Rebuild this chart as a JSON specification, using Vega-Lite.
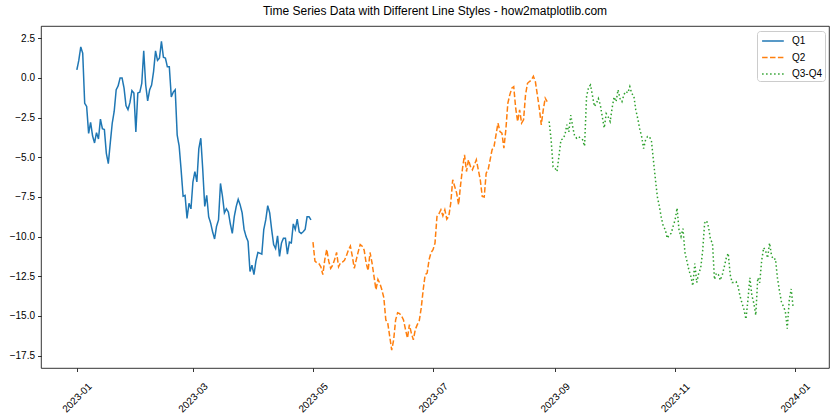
{
"$schema": "https://vega.github.io/schema/vega-lite/v6.json",
"width": 788, "height": 342,
"autosize": {"type": "none"},
"padding": {"left": 41, "top": 26, "right": 11, "bottom": 52},
"background": "white",
"config": {"view": {"stroke": "#000", "strokeWidth": 0.8}, "font": "Liberation Sans"},
"title": {"text": "Time Series Data with Different Line Styles - how2matplotlib.com", "fontSize": 12, "fontWeight": "normal", "color": "#000", "offset": 8, "anchor": "middle"},
"data": {"values": [
{"d":"2023-01-01","v":0.5,"s":"Q1"},{"d":"2023-01-02","v":1.1,"s":"Q1"},{"d":"2023-01-03","v":1.95,"s":"Q1"},{"d":"2023-01-04","v":1.55,"s":"Q1"},{"d":"2023-01-05","v":-1.6,"s":"Q1"},{"d":"2023-01-06","v":-1.8,"s":"Q1"},{"d":"2023-01-07","v":-3.5,"s":"Q1"},{"d":"2023-01-08","v":-2.8,"s":"Q1"},{"d":"2023-01-09","v":-3.65,"s":"Q1"},{"d":"2023-01-10","v":-4.1,"s":"Q1"},
{"d":"2023-01-11","v":-3.45,"s":"Q1"},{"d":"2023-01-12","v":-3.85,"s":"Q1"},{"d":"2023-01-13","v":-2.6,"s":"Q1"},{"d":"2023-01-14","v":-3.2,"s":"Q1"},{"d":"2023-01-15","v":-3.25,"s":"Q1"},{"d":"2023-01-16","v":-4.75,"s":"Q1"},{"d":"2023-01-17","v":-5.4,"s":"Q1"},{"d":"2023-01-18","v":-4.1,"s":"Q1"},{"d":"2023-01-19","v":-2.85,"s":"Q1"},{"d":"2023-01-20","v":-2.1,"s":"Q1"},
{"d":"2023-01-21","v":-0.75,"s":"Q1"},{"d":"2023-01-22","v":-0.5,"s":"Q1"},{"d":"2023-01-23","v":0.0,"s":"Q1"},{"d":"2023-01-24","v":0.0,"s":"Q1"},{"d":"2023-01-25","v":-0.65,"s":"Q1"},{"d":"2023-01-26","v":-1.75,"s":"Q1"},{"d":"2023-01-27","v":-2.0,"s":"Q1"},{"d":"2023-01-28","v":-1.55,"s":"Q1"},{"d":"2023-01-29","v":-0.8,"s":"Q1"},{"d":"2023-01-30","v":-0.95,"s":"Q1"},
{"d":"2023-01-31","v":-3.4,"s":"Q1"},{"d":"2023-02-01","v":-0.95,"s":"Q1"},{"d":"2023-02-02","v":-0.9,"s":"Q1"},{"d":"2023-02-03","v":-0.35,"s":"Q1"},{"d":"2023-02-04","v":1.7,"s":"Q1"},{"d":"2023-02-05","v":-0.45,"s":"Q1"},{"d":"2023-02-06","v":-1.45,"s":"Q1"},{"d":"2023-02-07","v":-0.75,"s":"Q1"},{"d":"2023-02-08","v":-0.45,"s":"Q1"},{"d":"2023-02-09","v":0.4,"s":"Q1"},
{"d":"2023-02-10","v":1.7,"s":"Q1"},{"d":"2023-02-11","v":1.1,"s":"Q1"},{"d":"2023-02-12","v":1.25,"s":"Q1"},{"d":"2023-02-13","v":2.3,"s":"Q1"},{"d":"2023-02-14","v":1.3,"s":"Q1"},{"d":"2023-02-15","v":1.25,"s":"Q1"},{"d":"2023-02-16","v":0.7,"s":"Q1"},{"d":"2023-02-17","v":0.7,"s":"Q1"},{"d":"2023-02-18","v":-1.2,"s":"Q1"},{"d":"2023-02-19","v":-0.9,"s":"Q1"},
{"d":"2023-02-20","v":-0.75,"s":"Q1"},{"d":"2023-02-21","v":-3.6,"s":"Q1"},{"d":"2023-02-22","v":-4.3,"s":"Q1"},{"d":"2023-02-23","v":-5.8,"s":"Q1"},{"d":"2023-02-24","v":-7.45,"s":"Q1"},{"d":"2023-02-25","v":-7.4,"s":"Q1"},{"d":"2023-02-26","v":-8.85,"s":"Q1"},{"d":"2023-02-27","v":-7.9,"s":"Q1"},{"d":"2023-02-28","v":-8.25,"s":"Q1"},{"d":"2023-03-01","v":-6.55,"s":"Q1"},
{"d":"2023-03-02","v":-5.9,"s":"Q1"},{"d":"2023-03-03","v":-6.55,"s":"Q1"},{"d":"2023-03-04","v":-4.45,"s":"Q1"},{"d":"2023-03-05","v":-3.8,"s":"Q1"},{"d":"2023-03-06","v":-5.8,"s":"Q1"},{"d":"2023-03-07","v":-8.1,"s":"Q1"},{"d":"2023-03-08","v":-7.4,"s":"Q1"},{"d":"2023-03-09","v":-8.75,"s":"Q1"},{"d":"2023-03-10","v":-9.15,"s":"Q1"},{"d":"2023-03-11","v":-9.7,"s":"Q1"},
{"d":"2023-03-12","v":-10.15,"s":"Q1"},{"d":"2023-03-13","v":-9.35,"s":"Q1"},{"d":"2023-03-14","v":-8.95,"s":"Q1"},{"d":"2023-03-15","v":-6.65,"s":"Q1"},{"d":"2023-03-16","v":-7.45,"s":"Q1"},{"d":"2023-03-17","v":-8.5,"s":"Q1"},{"d":"2023-03-18","v":-8.25,"s":"Q1"},{"d":"2023-03-19","v":-8.45,"s":"Q1"},{"d":"2023-03-20","v":-9.2,"s":"Q1"},{"d":"2023-03-21","v":-9.8,"s":"Q1"},
{"d":"2023-03-22","v":-8.75,"s":"Q1"},{"d":"2023-03-23","v":-8.1,"s":"Q1"},{"d":"2023-03-24","v":-7.65,"s":"Q1"},{"d":"2023-03-25","v":-8.0,"s":"Q1"},{"d":"2023-03-26","v":-8.5,"s":"Q1"},{"d":"2023-03-27","v":-9.55,"s":"Q1"},{"d":"2023-03-28","v":-10.0,"s":"Q1"},{"d":"2023-03-29","v":-10.3,"s":"Q1"},{"d":"2023-03-30","v":-12.2,"s":"Q1"},{"d":"2023-03-31","v":-11.8,"s":"Q1"},
{"d":"2023-04-01","v":-12.4,"s":"Q1"},{"d":"2023-04-02","v":-11.55,"s":"Q1"},{"d":"2023-04-03","v":-11.0,"s":"Q1"},{"d":"2023-04-04","v":-11.05,"s":"Q1"},{"d":"2023-04-05","v":-11.1,"s":"Q1"},{"d":"2023-04-06","v":-9.55,"s":"Q1"},{"d":"2023-04-07","v":-8.95,"s":"Q1"},{"d":"2023-04-08","v":-8.05,"s":"Q1"},{"d":"2023-04-09","v":-8.5,"s":"Q1"},{"d":"2023-04-10","v":-9.55,"s":"Q1"},
{"d":"2023-04-11","v":-10.5,"s":"Q1"},{"d":"2023-04-12","v":-10.75,"s":"Q1"},{"d":"2023-04-13","v":-9.95,"s":"Q1"},{"d":"2023-04-14","v":-11.25,"s":"Q1"},{"d":"2023-04-15","v":-10.4,"s":"Q1"},{"d":"2023-04-16","v":-10.1,"s":"Q1"},{"d":"2023-04-17","v":-10.1,"s":"Q1"},{"d":"2023-04-18","v":-11.1,"s":"Q1"},{"d":"2023-04-19","v":-10.35,"s":"Q1"},{"d":"2023-04-20","v":-10.4,"s":"Q1"},
{"d":"2023-04-21","v":-9.2,"s":"Q1"},{"d":"2023-04-22","v":-9.55,"s":"Q1"},{"d":"2023-04-23","v":-8.9,"s":"Q1"},{"d":"2023-04-24","v":-9.7,"s":"Q1"},{"d":"2023-04-25","v":-9.8,"s":"Q1"},{"d":"2023-04-26","v":-9.7,"s":"Q1"},{"d":"2023-04-27","v":-9.55,"s":"Q1"},{"d":"2023-04-28","v":-8.75,"s":"Q1"},{"d":"2023-04-29","v":-8.75,"s":"Q1"},{"d":"2023-04-30","v":-8.95,"s":"Q1"},
{"d":"2023-05-01","v":-10.35,"s":"Q2"},{"d":"2023-05-02","v":-11.55,"s":"Q2"},{"d":"2023-05-03","v":-11.65,"s":"Q2"},{"d":"2023-05-04","v":-11.7,"s":"Q2"},{"d":"2023-05-05","v":-11.9,"s":"Q2"},{"d":"2023-05-06","v":-12.4,"s":"Q2"},{"d":"2023-05-07","v":-11.45,"s":"Q2"},{"d":"2023-05-08","v":-10.8,"s":"Q2"},{"d":"2023-05-09","v":-11.55,"s":"Q2"},{"d":"2023-05-10","v":-12.0,"s":"Q2"},
{"d":"2023-05-11","v":-11.8,"s":"Q2"},{"d":"2023-05-12","v":-11.45,"s":"Q2"},{"d":"2023-05-13","v":-11.0,"s":"Q2"},{"d":"2023-05-14","v":-11.9,"s":"Q2"},{"d":"2023-05-15","v":-11.65,"s":"Q2"},{"d":"2023-05-16","v":-11.6,"s":"Q2"},{"d":"2023-05-17","v":-11.5,"s":"Q2"},{"d":"2023-05-18","v":-11.2,"s":"Q2"},{"d":"2023-05-19","v":-10.85,"s":"Q2"},{"d":"2023-05-20","v":-10.6,"s":"Q2"},
{"d":"2023-05-21","v":-11.25,"s":"Q2"},{"d":"2023-05-22","v":-12.0,"s":"Q2"},{"d":"2023-05-23","v":-11.45,"s":"Q2"},{"d":"2023-05-24","v":-10.95,"s":"Q2"},{"d":"2023-05-25","v":-10.5,"s":"Q2"},{"d":"2023-05-26","v":-10.6,"s":"Q2"},{"d":"2023-05-27","v":-10.85,"s":"Q2"},{"d":"2023-05-28","v":-11.65,"s":"Q2"},{"d":"2023-05-29","v":-12.15,"s":"Q2"},{"d":"2023-05-30","v":-11.0,"s":"Q2"},
{"d":"2023-05-31","v":-11.65,"s":"Q2"},{"d":"2023-06-01","v":-12.5,"s":"Q2"},{"d":"2023-06-02","v":-13.35,"s":"Q2"},{"d":"2023-06-03","v":-12.7,"s":"Q2"},{"d":"2023-06-04","v":-12.95,"s":"Q2"},{"d":"2023-06-05","v":-13.35,"s":"Q2"},{"d":"2023-06-06","v":-13.85,"s":"Q2"},{"d":"2023-06-07","v":-15.25,"s":"Q2"},{"d":"2023-06-08","v":-15.45,"s":"Q2"},{"d":"2023-06-09","v":-16.3,"s":"Q2"},
{"d":"2023-06-10","v":-17.15,"s":"Q2"},{"d":"2023-06-11","v":-16.5,"s":"Q2"},{"d":"2023-06-12","v":-15.25,"s":"Q2"},{"d":"2023-06-13","v":-14.8,"s":"Q2"},{"d":"2023-06-14","v":-14.85,"s":"Q2"},{"d":"2023-06-15","v":-15.0,"s":"Q2"},{"d":"2023-06-16","v":-15.25,"s":"Q2"},{"d":"2023-06-17","v":-15.85,"s":"Q2"},{"d":"2023-06-18","v":-16.4,"s":"Q2"},{"d":"2023-06-19","v":-15.55,"s":"Q2"},
{"d":"2023-06-20","v":-16.1,"s":"Q2"},{"d":"2023-06-21","v":-16.5,"s":"Q2"},{"d":"2023-06-22","v":-15.85,"s":"Q2"},{"d":"2023-06-23","v":-15.55,"s":"Q2"},{"d":"2023-06-24","v":-15.3,"s":"Q2"},{"d":"2023-06-25","v":-14.5,"s":"Q2"},{"d":"2023-06-26","v":-13.35,"s":"Q2"},{"d":"2023-06-27","v":-12.4,"s":"Q2"},{"d":"2023-06-28","v":-12.3,"s":"Q2"},{"d":"2023-06-29","v":-11.45,"s":"Q2"},
{"d":"2023-06-30","v":-11.0,"s":"Q2"},{"d":"2023-07-01","v":-10.83,"s":"Q2"},{"d":"2023-07-02","v":-10.41,"s":"Q2"},{"d":"2023-07-03","v":-8.73,"s":"Q2"},{"d":"2023-07-04","v":-8.56,"s":"Q2"},{"d":"2023-07-05","v":-8.31,"s":"Q2"},{"d":"2023-07-06","v":-8.69,"s":"Q2"},{"d":"2023-07-07","v":-8.31,"s":"Q2"},{"d":"2023-07-08","v":-8.9,"s":"Q2"},{"d":"2023-07-09","v":-8.73,"s":"Q2"},
{"d":"2023-07-10","v":-7.89,"s":"Q2"},{"d":"2023-07-11","v":-6.42,"s":"Q2"},{"d":"2023-07-12","v":-6.84,"s":"Q2"},{"d":"2023-07-13","v":-7.26,"s":"Q2"},{"d":"2023-07-14","v":-7.99,"s":"Q2"},{"d":"2023-07-15","v":-6.74,"s":"Q2"},{"d":"2023-07-16","v":-5.69,"s":"Q2"},{"d":"2023-07-17","v":-4.85,"s":"Q2"},{"d":"2023-07-18","v":-5.9,"s":"Q2"},{"d":"2023-07-19","v":-5.16,"s":"Q2"},
{"d":"2023-07-20","v":-5.58,"s":"Q2"},{"d":"2023-07-21","v":-5.79,"s":"Q2"},{"d":"2023-07-22","v":-5.48,"s":"Q2"},{"d":"2023-07-23","v":-5.16,"s":"Q2"},{"d":"2023-07-24","v":-5.79,"s":"Q2"},{"d":"2023-07-25","v":-6.42,"s":"Q2"},{"d":"2023-07-26","v":-7.47,"s":"Q2"},{"d":"2023-07-27","v":-7.51,"s":"Q2"},{"d":"2023-07-28","v":-6.0,"s":"Q2"},{"d":"2023-07-29","v":-5.79,"s":"Q2"},
{"d":"2023-07-30","v":-5.16,"s":"Q2"},{"d":"2023-07-31","v":-4.53,"s":"Q2"},{"d":"2023-08-01","v":-4.32,"s":"Q2"},{"d":"2023-08-02","v":-3.59,"s":"Q2"},{"d":"2023-08-03","v":-2.85,"s":"Q2"},{"d":"2023-08-04","v":-3.38,"s":"Q2"},{"d":"2023-08-05","v":-3.48,"s":"Q2"},{"d":"2023-08-06","v":-4.43,"s":"Q2"},{"d":"2023-08-07","v":-3.27,"s":"Q2"},{"d":"2023-08-08","v":-1.6,"s":"Q2"},
{"d":"2023-08-09","v":-1.07,"s":"Q2"},{"d":"2023-08-10","v":-0.65,"s":"Q2"},{"d":"2023-08-11","v":-0.55,"s":"Q2"},{"d":"2023-08-12","v":-1.91,"s":"Q2"},{"d":"2023-08-13","v":-2.75,"s":"Q2"},{"d":"2023-08-14","v":-2.01,"s":"Q2"},{"d":"2023-08-15","v":-2.85,"s":"Q2"},{"d":"2023-08-16","v":-2.64,"s":"Q2"},{"d":"2023-08-17","v":-1.07,"s":"Q2"},{"d":"2023-08-18","v":-0.34,"s":"Q2"},
{"d":"2023-08-19","v":-0.23,"s":"Q2"},{"d":"2023-08-20","v":-0.13,"s":"Q2"},{"d":"2023-08-21","v":0.1,"s":"Q2"},{"d":"2023-08-22","v":-0.23,"s":"Q2"},{"d":"2023-08-23","v":-1.07,"s":"Q2"},{"d":"2023-08-24","v":-1.91,"s":"Q2"},{"d":"2023-08-25","v":-2.96,"s":"Q2"},{"d":"2023-08-26","v":-2.01,"s":"Q2"},{"d":"2023-08-27","v":-1.28,"s":"Q2"},{"d":"2023-08-28","v":-1.49,"s":"Q2"},
{"d":"2023-08-29","v":-2.75,"s":"Q3-Q4"},{"d":"2023-08-30","v":-3.9,"s":"Q3-Q4"},{"d":"2023-08-31","v":-5.6,"s":"Q3-Q4"},{"d":"2023-09-01","v":-5.7,"s":"Q3-Q4"},{"d":"2023-09-02","v":-5.9,"s":"Q3-Q4"},{"d":"2023-09-03","v":-4.9,"s":"Q3-Q4"},{"d":"2023-09-04","v":-3.9,"s":"Q3-Q4"},{"d":"2023-09-05","v":-3.85,"s":"Q3-Q4"},{"d":"2023-09-06","v":-3.6,"s":"Q3-Q4"},{"d":"2023-09-07","v":-2.95,"s":"Q3-Q4"},
{"d":"2023-09-08","v":-3.4,"s":"Q3-Q4"},{"d":"2023-09-09","v":-2.35,"s":"Q3-Q4"},{"d":"2023-09-10","v":-3.1,"s":"Q3-Q4"},{"d":"2023-09-11","v":-3.7,"s":"Q3-Q4"},{"d":"2023-09-12","v":-3.8,"s":"Q3-Q4"},{"d":"2023-09-13","v":-3.7,"s":"Q3-Q4"},{"d":"2023-09-14","v":-3.8,"s":"Q3-Q4"},{"d":"2023-09-15","v":-3.9,"s":"Q3-Q4"},{"d":"2023-09-16","v":-4.3,"s":"Q3-Q4"},{"d":"2023-09-17","v":-1.2,"s":"Q3-Q4"},
{"d":"2023-09-18","v":-0.6,"s":"Q3-Q4"},{"d":"2023-09-19","v":-0.45,"s":"Q3-Q4"},{"d":"2023-09-20","v":-1.1,"s":"Q3-Q4"},{"d":"2023-09-21","v":-1.8,"s":"Q3-Q4"},{"d":"2023-09-22","v":-1.6,"s":"Q3-Q4"},{"d":"2023-09-23","v":-1.3,"s":"Q3-Q4"},{"d":"2023-09-24","v":-1.7,"s":"Q3-Q4"},{"d":"2023-09-25","v":-2.45,"s":"Q3-Q4"},{"d":"2023-09-26","v":-3.15,"s":"Q3-Q4"},{"d":"2023-09-27","v":-2.25,"s":"Q3-Q4"},
{"d":"2023-09-28","v":-2.45,"s":"Q3-Q4"},{"d":"2023-09-29","v":-2.75,"s":"Q3-Q4"},{"d":"2023-09-30","v":-1.9,"s":"Q3-Q4"},{"d":"2023-10-01","v":-1.2,"s":"Q3-Q4"},{"d":"2023-10-02","v":-1.5,"s":"Q3-Q4"},{"d":"2023-10-03","v":-0.75,"s":"Q3-Q4"},{"d":"2023-10-04","v":-1.3,"s":"Q3-Q4"},{"d":"2023-10-05","v":-1.5,"s":"Q3-Q4"},{"d":"2023-10-06","v":-1.05,"s":"Q3-Q4"},{"d":"2023-10-07","v":-0.85,"s":"Q3-Q4"},
{"d":"2023-10-08","v":-0.95,"s":"Q3-Q4"},{"d":"2023-10-09","v":-0.55,"s":"Q3-Q4"},{"d":"2023-10-10","v":-1.0,"s":"Q3-Q4"},{"d":"2023-10-11","v":-1.1,"s":"Q3-Q4"},{"d":"2023-10-12","v":-2.0,"s":"Q3-Q4"},{"d":"2023-10-13","v":-2.55,"s":"Q3-Q4"},{"d":"2023-10-14","v":-3.2,"s":"Q3-Q4"},{"d":"2023-10-15","v":-3.7,"s":"Q3-Q4"},{"d":"2023-10-16","v":-4.45,"s":"Q3-Q4"},{"d":"2023-10-17","v":-3.9,"s":"Q3-Q4"},
{"d":"2023-10-18","v":-3.7,"s":"Q3-Q4"},{"d":"2023-10-19","v":-3.7,"s":"Q3-Q4"},{"d":"2023-10-20","v":-4.0,"s":"Q3-Q4"},{"d":"2023-10-21","v":-5.2,"s":"Q3-Q4"},{"d":"2023-10-22","v":-6.4,"s":"Q3-Q4"},{"d":"2023-10-23","v":-7.5,"s":"Q3-Q4"},{"d":"2023-10-24","v":-8.1,"s":"Q3-Q4"},{"d":"2023-10-25","v":-8.8,"s":"Q3-Q4"},{"d":"2023-10-26","v":-9.35,"s":"Q3-Q4"},{"d":"2023-10-27","v":-9.55,"s":"Q3-Q4"},
{"d":"2023-10-28","v":-10.1,"s":"Q3-Q4"},{"d":"2023-10-29","v":-9.9,"s":"Q3-Q4"},{"d":"2023-10-30","v":-9.8,"s":"Q3-Q4"},{"d":"2023-10-31","v":-9.35,"s":"Q3-Q4"},{"d":"2023-11-01","v":-8.95,"s":"Q3-Q4"},{"d":"2023-11-02","v":-8.2,"s":"Q3-Q4"},{"d":"2023-11-03","v":-9.6,"s":"Q3-Q4"},{"d":"2023-11-04","v":-10.0,"s":"Q3-Q4"},{"d":"2023-11-05","v":-9.5,"s":"Q3-Q4"},{"d":"2023-11-06","v":-11.0,"s":"Q3-Q4"},
{"d":"2023-11-07","v":-11.55,"s":"Q3-Q4"},{"d":"2023-11-08","v":-12.1,"s":"Q3-Q4"},{"d":"2023-11-09","v":-12.5,"s":"Q3-Q4"},{"d":"2023-11-10","v":-13.1,"s":"Q3-Q4"},{"d":"2023-11-11","v":-11.7,"s":"Q3-Q4"},{"d":"2023-11-12","v":-12.9,"s":"Q3-Q4"},{"d":"2023-11-13","v":-12.3,"s":"Q3-Q4"},{"d":"2023-11-14","v":-12.0,"s":"Q3-Q4"},{"d":"2023-11-15","v":-10.9,"s":"Q3-Q4"},{"d":"2023-11-16","v":-9.15,"s":"Q3-Q4"},
{"d":"2023-11-17","v":-9.0,"s":"Q3-Q4"},{"d":"2023-11-18","v":-9.4,"s":"Q3-Q4"},{"d":"2023-11-19","v":-10.2,"s":"Q3-Q4"},{"d":"2023-11-20","v":-10.4,"s":"Q3-Q4"},{"d":"2023-11-21","v":-12.7,"s":"Q3-Q4"},{"d":"2023-11-22","v":-12.3,"s":"Q3-Q4"},{"d":"2023-11-23","v":-12.4,"s":"Q3-Q4"},{"d":"2023-11-24","v":-12.75,"s":"Q3-Q4"},{"d":"2023-11-25","v":-12.4,"s":"Q3-Q4"},{"d":"2023-11-26","v":-11.9,"s":"Q3-Q4"},
{"d":"2023-11-27","v":-11.35,"s":"Q3-Q4"},{"d":"2023-11-28","v":-11.05,"s":"Q3-Q4"},{"d":"2023-11-29","v":-12.4,"s":"Q3-Q4"},{"d":"2023-11-30","v":-12.9,"s":"Q3-Q4"},{"d":"2023-12-01","v":-12.9,"s":"Q3-Q4"},{"d":"2023-12-02","v":-12.85,"s":"Q3-Q4"},{"d":"2023-12-03","v":-13.15,"s":"Q3-Q4"},{"d":"2023-12-04","v":-13.75,"s":"Q3-Q4"},{"d":"2023-12-05","v":-14.2,"s":"Q3-Q4"},{"d":"2023-12-06","v":-14.6,"s":"Q3-Q4"},
{"d":"2023-12-07","v":-15.2,"s":"Q3-Q4"},{"d":"2023-12-08","v":-14.0,"s":"Q3-Q4"},{"d":"2023-12-09","v":-12.6,"s":"Q3-Q4"},{"d":"2023-12-10","v":-13.7,"s":"Q3-Q4"},{"d":"2023-12-11","v":-14.2,"s":"Q3-Q4"},{"d":"2023-12-12","v":-14.95,"s":"Q3-Q4"},{"d":"2023-12-13","v":-12.6,"s":"Q3-Q4"},{"d":"2023-12-14","v":-12.9,"s":"Q3-Q4"},{"d":"2023-12-15","v":-11.5,"s":"Q3-Q4"},{"d":"2023-12-16","v":-10.7,"s":"Q3-Q4"},
{"d":"2023-12-17","v":-10.9,"s":"Q3-Q4"},{"d":"2023-12-18","v":-11.35,"s":"Q3-Q4"},{"d":"2023-12-19","v":-10.4,"s":"Q3-Q4"},{"d":"2023-12-20","v":-11.2,"s":"Q3-Q4"},{"d":"2023-12-21","v":-11.45,"s":"Q3-Q4"},{"d":"2023-12-22","v":-11.4,"s":"Q3-Q4"},{"d":"2023-12-23","v":-12.6,"s":"Q3-Q4"},{"d":"2023-12-24","v":-13.4,"s":"Q3-Q4"},{"d":"2023-12-25","v":-14.1,"s":"Q3-Q4"},{"d":"2023-12-26","v":-14.4,"s":"Q3-Q4"},
{"d":"2023-12-27","v":-14.7,"s":"Q3-Q4"},{"d":"2023-12-28","v":-15.8,"s":"Q3-Q4"},{"d":"2023-12-29","v":-14.0,"s":"Q3-Q4"},{"d":"2023-12-30","v":-13.3,"s":"Q3-Q4"},{"d":"2023-12-31","v":-14.5,"s":"Q3-Q4"}
]},
"mark": {"type": "line", "strokeWidth": 1.5},
"encoding": {
  "x": {"field": "d", "type": "temporal",
    "scale": {"type": "utc", "domain": [{"year": 2022, "month": 12, "date": 13, "hours": 19, "minutes": 12, "utc": true}, {"year": 2024, "month": 1, "date": 18, "hours": 4, "minutes": 48, "utc": true}]},
    "axis": {"title": null, "grid": false, "domain": false, "tickSize": 3.5, "tickColor": "#000", "tickWidth": 0.8,
      "values": [{"year": 2023, "month": 1, "date": 1, "utc": true}, {"year": 2023, "month": 3, "date": 1, "utc": true}, {"year": 2023, "month": 5, "date": 1, "utc": true}, {"year": 2023, "month": 7, "date": 1, "utc": true}, {"year": 2023, "month": 9, "date": 1, "utc": true}, {"year": 2023, "month": 11, "date": 1, "utc": true}, {"year": 2024, "month": 1, "date": 1, "utc": true}],
      "format": "%Y-%m", "labelAngle": -45, "labelAlign": "center", "labelBaseline": "middle", "labelPadding": 26, "labelFontSize": 10, "labelColor": "#000", "labelFlush": false, "labelOverlap": false}},
  "y": {"field": "v", "type": "quantitative",
    "scale": {"domain": [-18.28, 3.27], "nice": false, "zero": false},
    "axis": {"title": null, "grid": false, "domain": false, "tickSize": 3.5, "tickColor": "#000", "tickWidth": 0.8,
      "values": [-17.5, -15, -12.5, -10, -7.5, -5, -2.5, 0, 2.5], "format": ".1f", "labelFontSize": 10, "labelColor": "#000", "labelPadding": 3}},
  "color": {"field": "s", "type": "nominal",
    "scale": {"domain": ["Q1", "Q2", "Q3-Q4"], "range": ["#1f77b4", "#ff7f0e", "#2ca02c"]},
    "legend": {"title": null, "orient": "none", "legendX": 716, "legendY": 5, "direction": "vertical",
      "symbolType": "M-0.7,0H2.4", "symbolSize": 196, "symbolStrokeWidth": 1.5, "labelFontSize": 10, "labelColor": "#000", "labelOffset": 17,
      "padding": 2, "rowPadding": 3.5, "strokeColor": "#cccccc", "fillColor": "rgba(255,255,255,0.8)", "cornerRadius": 3}},
  "strokeDash": {"field": "s", "type": "nominal",
    "scale": {"domain": ["Q1", "Q2", "Q3-Q4"], "range": [[1, 0], [5.5, 2.4], [1.5, 2.5]]}}
}
}
